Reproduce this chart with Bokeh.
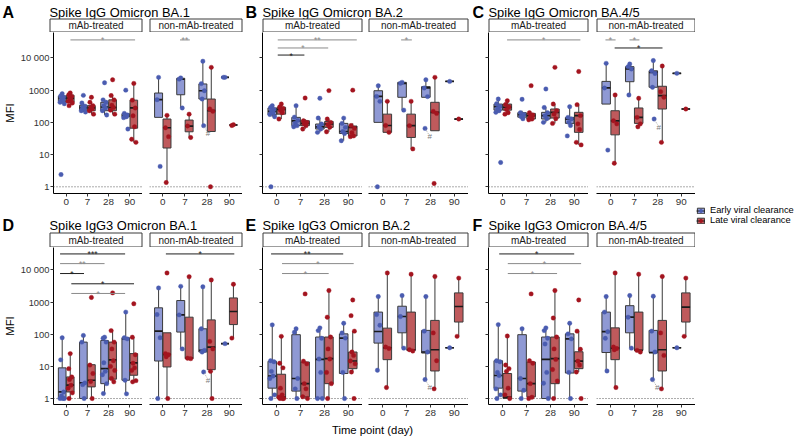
from bokeh.plotting import figure
from bokeh.models import Range1d, FixedTicker, Span, Legend, LegendItem
from bokeh.layouts import row, column
from bokeh.embed import file_html
from bokeh.resources import INLINE
from bokeh.core.properties import value

# ------------------------------------------------------------------ labels
DAY_LABELS = ["0", "7", "28", "90"]
FACET_LABELS = ["mAb-treated", "non-mAb-treated"]
GROUP_LABELS = ["Early viral clearance", "Late viral clearance"]
PANEL_LETTERS = ["A", "B", "C", "D", "E", "F"]
PANEL_TITLES = ["Spike IgG Omicron BA.1", "Spike IgG Omicron BA.2", "Spike IgG Omicron BA.4/5",
                "Spike IgG3 Omicron BA.1", "Spike IgG3 Omicron BA.2", "Spike IgG3 Omicron BA.4/5"]
Y_TICKS = [1, 10, 100, 1000, 10000]
Y_TICK_LABELS = ["1", "10", "100", "1000", "10 000"]
X_LABEL = "Time point (day)"
Y_LABEL = "MFI"
HASH_LABEL = "#"

# ------------------------------------------------------------------ data (MFI)
# box stats per day: (lower whisker, Q1, median, Q3, upper whisker); points per day
A_mab_early_box = [(380, 450, 560, 660, 780), (210, 240, 285, 340, 400), (170, 230, 300, 420, 500), (140, 150, 160, 185, 200)]
A_mab_early_pts = [[780, 660, 600, 540, 480, 420, 380, 2.4], [690, 400, 320, 290, 260, 230, 210], [1700, 500, 420, 330, 280, 230, 170], [1000, 190, 170, 160, 150, 140, 62]]
A_mab_late_box = [(330, 420, 570, 700, 820), (180, 230, 280, 330, 420), (180, 230, 290, 500, 680), (24, 66, 280, 490, 1620)]
A_mab_late_pts = [[820, 720, 640, 570, 510, 450, 400, 330], [600, 420, 330, 290, 260, 230, 180], [2100, 680, 500, 340, 290, 240, 180], [1620, 490, 280, 160, 73, 30, 24]]
A_non_early_box = [(143, 143, 505, 815, 2500), (280, 720, 2180, 2340, 2400), (79, 530, 960, 1560, 7900), (2500, 2500, 2500, 2500, 2500)]
A_non_early_pts = [[2500, 505, 4.3], [2400, 2200, 280], [7900, 1600, 960, 530, 79], [2500, 2500]]
A_non_late_box = [(1.36, 16, 68, 127, 168), (34, 51, 77, 118, 180), (52, 52, 230, 530, 5100), (83, 83, 83, 83, 83)]
A_non_late_pts = [[165, 68, 36, 1.36], [180, 77, 34], [5100, 260, 220, 1], [85, 80]]

B_mab_early_box = [(150, 173, 220, 280, 330), (73, 79, 112, 143, 330), (49, 62, 73, 89, 136), (27, 45, 52, 93, 136)]
B_mab_early_pts = [[330, 290, 250, 220, 200, 175, 150, 1], [330, 145, 115, 95, 79, 73], [560, 136, 89, 73, 62, 49], [136, 93, 70, 52, 45, 27]]
B_mab_late_box = [(127, 180, 253, 295, 370), (62, 79, 93, 112, 127), (51, 70, 89, 107, 127), (36, 38, 70, 77, 93)]
B_mab_late_pts = [[370, 300, 270, 240, 200, 127], [570, 112, 100, 90, 79, 62], [970, 127, 100, 85, 70, 51], [1000, 80, 65, 48, 38, 36]]
B_non_early_box = [(100, 100, 640, 960, 1370), (240, 600, 1630, 1750, 1750), (600, 600, 1170, 1290, 2100), (1870, 1870, 1870, 1870, 1870)]
B_non_early_pts = [[1370, 640, 450, 1], [1750, 1630, 240], [2100, 1170, 630, 65], [1870]]
B_non_late_box = [(49, 49, 80, 180, 450), (15, 34, 79, 180, 450), (55, 55, 205, 420, 2500), (127, 127, 127, 127, 127)]
B_non_late_pts = [[450, 80, 49], [450, 79, 15], [2500, 220, 190, 1.27], [127]]

C_mab_early_box = [(205, 240, 308, 370, 530), (130, 145, 173, 200, 230), (100, 127, 162, 205, 290), (80, 93, 127, 143, 308)]
C_mab_early_pts = [[530, 380, 310, 270, 230, 205, 5.7], [520, 200, 175, 150, 130], [1090, 290, 200, 160, 130, 100], [308, 143, 127, 100, 80, 38]]
C_mab_late_box = [(180, 240, 295, 370, 470), (120, 127, 162, 190, 200), (93, 136, 205, 260, 370), (20, 49, 162, 205, 355)]
C_mab_late_pts = [[470, 360, 300, 250, 200, 180], [1380, 200, 170, 150, 127, 120], [5100, 370, 230, 180, 130, 93], [3800, 355, 162, 90, 60, 24, 20]]
C_non_early_box = [(370, 370, 1170, 1870, 6800), (710, 1830, 4550, 5370, 6500), (1230, 1230, 3570, 4000, 8300), (3330, 3330, 3330, 3330, 3330)]
C_non_early_pts = [[6800, 1170, 13.8], [6500, 5370, 4550, 710], [8300, 4000, 3300, 1230, 127], [3330]]
C_non_late_box = [(5.4, 41, 112, 230, 710), (73, 93, 143, 280, 560), (24, 260, 675, 1320, 5600), (260, 260, 260, 260, 260)]
C_non_late_pts = [[710, 112, 90, 5.4], [560, 143, 90, 73], [5600, 900, 600, 24], [260]]

D_mab_early_box = [(1, 1, 1.6, 9, 78), (1, 1, 3.06, 57, 92), (1.43, 2.9, 8.5, 64, 81), (1.4, 3.7, 72, 78, 490)]
D_mab_early_pts = [[78, 16, 1.6, 1.2, 1, 1, 1], [92, 57, 3.06, 2.7, 1], [81, 75, 57, 13, 7, 5.5, 2.9, 1.43], [490, 78, 72, 3.7, 1.4]]
D_mab_late_box = [(1, 1.6, 2.6, 4.7, 25), (1, 2.3, 3.7, 11.3, 11.3), (3.3, 4, 16, 57, 130), (3.3, 5.3, 12.8, 25, 81)]
D_mab_late_pts = [[25, 8.5, 4.7, 3.9, 2.6, 2.1, 1.5, 1], [1400, 11, 6, 3.4, 1], [1940, 130, 57, 35, 15, 10, 7.5, 4.2, 3.3], [890, 81, 23, 12.5, 9, 7.5, 3.6, 3.3]]
D_non_early_box = [(1, 14.7, 125, 665, 2770), (35, 117, 400, 1120, 3100), (28, 28, 31.5, 148, 3000), (51, 51, 51, 51, 51)]
D_non_early_pts = [[2770, 410, 78, 1], [3100, 400, 35], [3000, 148, 31.5, 28, 6.7], [51]]
D_non_late_box = [(1, 9.6, 23.7, 111, 111), (17.4, 17.4, 18, 340, 6200), (1, 7.9, 40, 280, 4900), (76, 200, 510, 1350, 3600)]
D_non_late_pts = [[8100, 25, 23, 20, 1], [6200, 18, 17.4], [4900, 60, 35, 7, 1], [3600, 76]]

E_mab_early_box = [(1, 2.1, 5.0, 14.4, 196), (1, 1.7, 4.2, 97, 148), (1, 1, 16.6, 82, 158), (1, 6, 76, 103, 220)]
E_mab_early_pts = [[196, 15, 14, 7, 5, 4.2, 1.3, 1], [148, 115, 4.2, 2, 1], [158, 130, 75, 17, 6.5, 1, 1], [220, 110, 76, 6.5, 1]]
E_mab_late_box = [(1, 1, 1.1, 5.7, 86), (1, 1.13, 2.9, 13.7, 14.5), (1, 2.9, 17.4, 82, 2300), (6.7, 8.5, 14.7, 28, 125)]
E_mab_late_pts = [[86, 12.5, 9, 2.1, 1.3, 1.1, 1, 1, 1], [1800, 14.5, 12, 2.9, 2, 1.13, 1], [2300, 340, 82, 35, 17, 6.5, 2.9, 1], [1170, 380, 125, 28, 22, 14.7, 12, 6.7, 1]]
E_non_early_box = [(7.6, 53, 122, 490, 1490), (37, 111, 357, 745, 1600), (3.9, 26, 28, 132, 1490), (38, 38, 38, 38, 38)]
E_non_early_pts = [[1490, 410, 190, 7.6], [1600, 357, 37], [1490, 125, 28, 3.9], [38]]
E_non_late_box = [(2.2, 16.2, 38, 155, 8100), (31.5, 31.5, 33, 490, 7400), (2.0, 7.2, 33, 270, 6300), (86, 240, 730, 1940, 5600)]
E_non_late_pts = [[8100, 40, 36, 2.2], [7400, 33, 30], [6300, 110, 15, 2.0], [5600, 86]]

F_mab_early_box = [(1, 2.1, 5.2, 15, 200), (1, 1.7, 4.2, 97, 148), (1, 1, 16.5, 82, 158), (1, 6.2, 72, 103, 220)]
F_mab_early_pts = [[200, 15, 14, 6.5, 5.2, 2, 1.3, 1], [148, 4.2, 1.8, 1], [158, 130, 75, 50, 6.5, 3, 1], [220, 103, 72, 6.5, 1]]
F_mab_late_box = [(1, 1, 1.1, 6, 88), (1, 1.13, 2.9, 13.7, 14.5), (1, 2.9, 17.4, 82, 2300), (6.7, 8.5, 14.5, 28.5, 125)]
F_mab_late_pts = [[88, 11, 8.5, 7, 2.1, 1.3, 1], [1800, 15, 12.5, 2.9, 1.1, 1], [2300, 320, 82, 35, 16.5, 8, 3.5, 1], [1170, 125, 34, 14.5, 11, 6.7, 1]]
F_non_early_box = [(7.2, 27, 120, 490, 1490), (37, 111, 340, 775, 1600), (3.9, 27, 27, 132, 1530), (38, 38, 38, 38, 38)]
F_non_early_pts = [[1490, 490, 120, 75, 7.2], [1600, 340, 37], [1530, 125, 28, 3.9], [38]]
F_non_late_box = [(2.2, 16.2, 37, 158, 8100), (28, 31.5, 31.5, 490, 7400), (2.0, 7.2, 33, 270, 6300), (86, 240, 700, 1940, 5600)]
F_non_late_pts = [[8100, 40, 36, 33, 2.2], [7400, 31.5, 28], [6300, 110, 22, 2.0], [5600, 86]]

# significance brackets: (x from, x to, MFI level, stars); x in time-slot units (1..4)
A_mab_sig = [(1.2, 4.25, 36300, "*")]
A_mab_sig_dark = [False]
A_non_sig = [(1.78, 2.22, 36300, "**")]
A_non_sig_dark = [False]
B_mab_sig = [(1.04, 4.36, 36300, "**"), (1.04, 3.16, 20400, "*"), (1.04, 2.16, 12300, "*")]
B_mab_sig_dark = [False, False, True]
B_non_sig = [(1.77, 2.22, 36300, "*")]
B_non_sig_dark = [False]
C_mab_sig = [(1.18, 4.26, 36300, "*")]
C_mab_sig_dark = [False]
C_non_sig = [(0.78, 1.21, 36300, "*"), (1.8, 2.22, 36300, "*"), (1.17, 3.2, 20400, "*")]
C_non_sig_dark = [False, False, True]
D_mab_sig = [(0.71, 3.78, 31600, "***"), (0.71, 2.81, 15800, "**"), (0.71, 1.84, 7760, "*"), (1.24, 4.2, 3720, "*"), (1.24, 3.78, 1860, "*")]
D_mab_sig_dark = [True, False, True, True, False]
D_non_sig = [(1.14, 4.23, 31600, "*")]
D_non_sig_dark = [True]
E_mab_sig = [(0.76, 3.79, 31600, "**"), (1.22, 4.23, 15800, "*"), (1.22, 3.18, 7760, "*")]
E_mab_sig_dark = [True, False, False]
E_non_sig = []
E_non_sig_dark = []
F_mab_sig = [(0.85, 4.0, 31600, "*"), (1.21, 4.29, 15800, "*"), (1.21, 3.28, 7760, "*")]
F_mab_sig_dark = [True, False, False]
F_non_sig = []
F_non_sig_dark = []

# log10 y limits of each panel row
ROW_YLIM = [(-0.208, 4.79), (-0.186, 4.70)]

PANELS = {
    "A": [(A_mab_early_box, A_mab_early_pts, A_mab_late_box, A_mab_late_pts, A_mab_sig, A_mab_sig_dark),
          (A_non_early_box, A_non_early_pts, A_non_late_box, A_non_late_pts, A_non_sig, A_non_sig_dark)],
    "B": [(B_mab_early_box, B_mab_early_pts, B_mab_late_box, B_mab_late_pts, B_mab_sig, B_mab_sig_dark),
          (B_non_early_box, B_non_early_pts, B_non_late_box, B_non_late_pts, B_non_sig, B_non_sig_dark)],
    "C": [(C_mab_early_box, C_mab_early_pts, C_mab_late_box, C_mab_late_pts, C_mab_sig, C_mab_sig_dark),
          (C_non_early_box, C_non_early_pts, C_non_late_box, C_non_late_pts, C_non_sig, C_non_sig_dark)],
    "D": [(D_mab_early_box, D_mab_early_pts, D_mab_late_box, D_mab_late_pts, D_mab_sig, D_mab_sig_dark),
          (D_non_early_box, D_non_early_pts, D_non_late_box, D_non_late_pts, D_non_sig, D_non_sig_dark)],
    "E": [(E_mab_early_box, E_mab_early_pts, E_mab_late_box, E_mab_late_pts, E_mab_sig, E_mab_sig_dark),
          (E_non_early_box, E_non_early_pts, E_non_late_box, E_non_late_pts, E_non_sig, E_non_sig_dark)],
    "F": [(F_mab_early_box, F_mab_early_pts, F_mab_late_box, F_mab_late_pts, F_mab_sig, F_mab_sig_dark),
          (F_non_early_box, F_non_early_pts, F_non_late_box, F_non_late_pts, F_non_sig, F_non_sig_dark)],
}

# ------------------------------------------------------------------ style
FONT = "Liberation Sans"
EARLY_PT, EARLY_FILL = "#4a5cb0", "#8f99d4"
LATE_PT, LATE_FILL = "#a3141f", "#bf5a5c"
BOX_LINE = "#3a3a3a"
WHISKER = "#3a3a3a"
MEDIAN = "#1a1a1a"
SIG_DARK, SIG_LIGHT = "#1f1f1f", "#8a8a8a"
AXIS_TXT = "#333333"
DODGE, BOX_W = 0.19, 0.36
JIT = [0.0, -0.07, 0.07, -0.035, 0.035, -0.1, 0.1, -0.055, 0.055]

# ------------------------------------------------------------------ layout (page pixels)
W_TOTAL, H_TOTAL = 796, 438
CANVAS_X = [0, 142, 242, 362, 468, 588, 695]        # facet canvases (left column)
FRAME_L = [49, 149, 262, 368, 488, 596]             # plot-area left edges
FRAME_R = CANVAS_X[1:]
LEFT_W = CANVAS_X[-1]
ROW_Y = [0, 32, 210, 247, 422, H_TOTAL]             # header1, facets1, header2, facets2, footer
FRAME_B = [193, 404]                                 # plot-area bottoms


def make_facet(width, left, height, bottom, ylim, ymode):
    p = figure(width=width, height=height, x_range=Range1d(0.4, 4.6),
               y_range=Range1d(10 ** ylim[0], 10 ** ylim[1]), y_axis_type="log",
               y_axis_location="left" if ymode else None,
               output_backend="svg", toolbar_location=None,
               min_border_left=left, min_border_right=0, min_border_top=0,
               min_border_bottom=bottom)
    p.outline_line_color = None
    p.grid.visible = False
    p.background_fill_color = "white"
    p.border_fill_color = "white"
    ax = p.xaxis[0]
    ax.ticker = FixedTicker(ticks=[1, 2, 3, 4])
    ax.major_label_overrides = {i + 1: d for i, d in enumerate(DAY_LABELS)}
    ax.axis_line_color = "black"
    ax.axis_line_width = 1
    ax.major_tick_line_color = "#333333"
    ax.major_tick_out = 3
    ax.major_tick_in = 0
    ax.minor_tick_line_color = None
    ax.major_label_standoff = 2
    ax.major_label_text_font = FONT
    ax.major_label_text_font_size = "9.9px"
    ax.major_label_text_color = AXIS_TXT
    if ymode:
        ay = p.yaxis[0]
        ay.ticker = FixedTicker(ticks=Y_TICKS)
        if ymode == "labels":
            ay.major_label_overrides = {t: l for t, l in zip(Y_TICKS, Y_TICK_LABELS)}
            ay.axis_label = Y_LABEL
            ay.axis_label_text_font = FONT
            ay.axis_label_text_font_size = "11.2px"
            ay.axis_label_text_font_style = "normal"
            ay.axis_label_text_color = "black"
            ay.axis_label_standoff = 2
        else:
            ay.major_label_overrides = {t: "" for t in Y_TICKS}
        ay.axis_line_color = "black"
        ay.axis_line_width = 1
        ay.major_tick_line_color = "#333333"
        ay.major_tick_out = 3
        ay.major_tick_in = 0
        ay.minor_tick_line_color = None
        ay.major_label_standoff = 1
        ay.major_label_text_font = FONT
        ay.major_label_text_font_size = "9.4px"
        ay.major_label_text_color = AXIS_TXT
    p.add_layout(Span(location=1, dimension="width", line_color="#444444",
                      line_dash="1 2", line_width=0.9, level="underlay"))
    return p


def draw_group(p, boxes, pts, off, fill, ptc):
    xs = [i + 1 + off for i in range(len(boxes))]
    lo = [b[0] for b in boxes]
    q1 = [b[1] for b in boxes]
    med = [b[2] for b in boxes]
    q3 = [b[3] for b in boxes]
    hi = [b[4] for b in boxes]
    left = [x - BOX_W / 2 for x in xs]
    right = [x + BOX_W / 2 for x in xs]
    p.segment(x0=xs, y0=q3, x1=xs, y1=hi, line_color=WHISKER, line_width=1)
    p.segment(x0=xs, y0=lo, x1=xs, y1=q1, line_color=WHISKER, line_width=1)
    p.quad(left=left, right=right, bottom=q1, top=q3, fill_color=fill,
           line_color=BOX_LINE, line_width=1)
    p.segment(x0=left, y0=med, x1=right, y1=med, line_color=MEDIAN, line_width=1.7)
    px, py = [], []
    for i, vals in enumerate(pts):
        for j, v in enumerate(vals):
            px.append(xs[i] + JIT[j % len(JIT)])
            py.append(v)
    p.scatter(x=px, y=py, size=4.4, marker="circle", fill_color=ptc, line_color=ptc,
              line_width=0.4)
    return xs


def draw_sig(p, sigs, darks):
    for (x1, x2, y, lab), dark in zip(sigs, darks):
        col = SIG_DARK if dark else SIG_LIGHT
        p.segment(x0=[x1], y0=[y], x1=[x2], y1=[y], line_color=col, line_width=1)
        p.text(x=[(x1 + x2) / 2], y=[y], text=[lab], text_align="center",
               text_baseline="alphabetic", y_offset=0.5, text_color=col,
               text_font=value(FONT), text_font_size="8.6px")


def draw_hash(p, xs, pts):
    vals = pts[2]
    v = min(vals)
    j = vals.index(v)
    x = xs[2] + JIT[j % len(JIT)]
    p.segment(x0=[x + 0.03], y0=[v * 0.92], x1=[x + 0.15], y1=[v * 0.66],
              line_color="#9a9a9a", line_dash="1 1", line_width=0.8)
    p.text(x=[x + 0.2], y=[v * 0.56], text=[HASH_LABEL], text_align="center",
           text_baseline="middle", text_color="#7a7a7a", text_font=value(FONT),
           text_font_size="8px")


def make_row(panel_keys, r):
    figs = []
    height = ROW_Y[2 * r + 2] - ROW_Y[2 * r + 1]
    bottom = ROW_Y[2 * r + 2] - FRAME_B[r]
    for k, key in enumerate(panel_keys):
        for f in range(2):
            idx = 2 * k + f
            width = CANVAS_X[idx + 1] - CANVAS_X[idx]
            left = FRAME_L[idx] - CANVAS_X[idx]
            if f == 0:
                ymode = "labels" if k == 0 else "ticks"
            else:
                ymode = None
            p = make_facet(width, left, height, bottom, ROW_YLIM[r], ymode)
            eb, ep, lb, lp, sig, dark = PANELS[key][f]
            xs_e = draw_group(p, eb, ep, -DODGE, EARLY_FILL, EARLY_PT)
            draw_group(p, lb, lp, DODGE, LATE_FILL, LATE_PT)
            draw_sig(p, sig, dark)
            if f == 1:
                draw_hash(p, xs_e, ep)
            figs.append(p)
    return row(*figs, spacing=0)


def blank(width, height, yflip=True):
    p = figure(width=width, height=height, x_range=Range1d(0, width),
               y_range=Range1d(height, 0) if yflip else Range1d(0, height),
               output_backend="svg", toolbar_location=None, min_border=0,
               x_axis_location=None, y_axis_location=None)
    p.outline_line_color = None
    p.grid.visible = False
    p.background_fill_color = "white"
    p.border_fill_color = "white"
    return p


def make_header(r, letters, titles, base_y, strip_top):
    top = ROW_Y[2 * r]
    h = ROW_Y[2 * r + 1] - top
    p = blank(LEFT_W, h)
    base = base_y - top
    p.text(x=[2.0, 245.0, 472.0], y=[base] * 3, text=letters, text_font=value(FONT),
           text_font_style="bold", text_font_size="16px", text_baseline="alphabetic",
           text_align="left", text_color="black")
    p.text(x=[FRAME_L[0], FRAME_L[2], FRAME_L[4]], y=[base] * 3, text=titles,
           text_font=value(FONT), text_font_size="12.9px", text_baseline="alphabetic",
           text_align="left", text_color="black")
    st = strip_top - top
    sb = h - 0.5
    p.quad(left=[l + 0.5 for l in FRAME_L], right=[rr - 0.5 for rr in FRAME_R],
           top=[st] * 6, bottom=[sb] * 6, fill_color="white", line_color="#3a3a3a",
           line_width=1)
    p.text(x=[(l + rr) / 2 for l, rr in zip(FRAME_L, FRAME_R)], y=[(st + sb) / 2 + 0.3] * 6,
           text=FACET_LABELS * 3, text_font=value(FONT), text_font_size="10px",
           text_baseline="middle", text_align="center", text_color="#1a1a1a")
    return p


header1 = make_header(0, PANEL_LETTERS[:3], PANEL_TITLES[:3], 12.0, 18.5)
header2 = make_header(1, PANEL_LETTERS[3:], PANEL_TITLES[3:], 225.0, 232.5)
row1 = make_row(["A", "B", "C"], 0)
row2 = make_row(["D", "E", "F"], 1)

footer_h = ROW_Y[5] - ROW_Y[4]
footer = blank(LEFT_W, footer_h)
footer.text(x=[(FRAME_L[0] + FRAME_R[-1]) / 2], y=[7.5], text=[X_LABEL],
            text_font=value(FONT), text_font_size="11.3px", text_baseline="middle",
            text_align="center", text_color="black")

# legend column
leg_w = W_TOTAL - LEFT_W
legfig = blank(leg_w, H_TOTAL, yflip=False)
NAN = float("nan")
items = []
for lab, fill, ptc in zip(GROUP_LABELS, [EARLY_FILL, LATE_FILL], [EARLY_PT, LATE_PT]):
    rq = legfig.quad(left=[NAN], right=[NAN], top=[NAN], bottom=[NAN], fill_color=fill,
                     line_color=BOX_LINE, line_width=1)
    rs = legfig.segment(x0=[NAN], y0=[NAN], x1=[NAN], y1=[NAN], line_color=MEDIAN,
                        line_width=1)
    rp = legfig.scatter(x=[NAN], y=[NAN], size=4, fill_color=ptc, line_color=ptc)
    items.append(LegendItem(label=lab, renderers=[rq, rs, rp]))
item_h = 10.7
leg_top = 209.0 - item_h / 2
leg_bottom = leg_top + 2 * item_h
legend = Legend(items=items, location=(1, H_TOTAL - leg_bottom), padding=0, margin=0,
                spacing=0, glyph_width=9, glyph_height=7, label_height=9,
                label_standoff=5, label_text_font=FONT, label_text_font_size="9.3px",
                label_text_color="black", border_line_color=None,
                background_fill_alpha=0)
legfig.add_layout(legend)

left_col = column(header1, row1, header2, row2, footer, spacing=0)
layout = row(left_col, legfig, spacing=0)

open("out.html", "w").write(file_html(layout, INLINE))
